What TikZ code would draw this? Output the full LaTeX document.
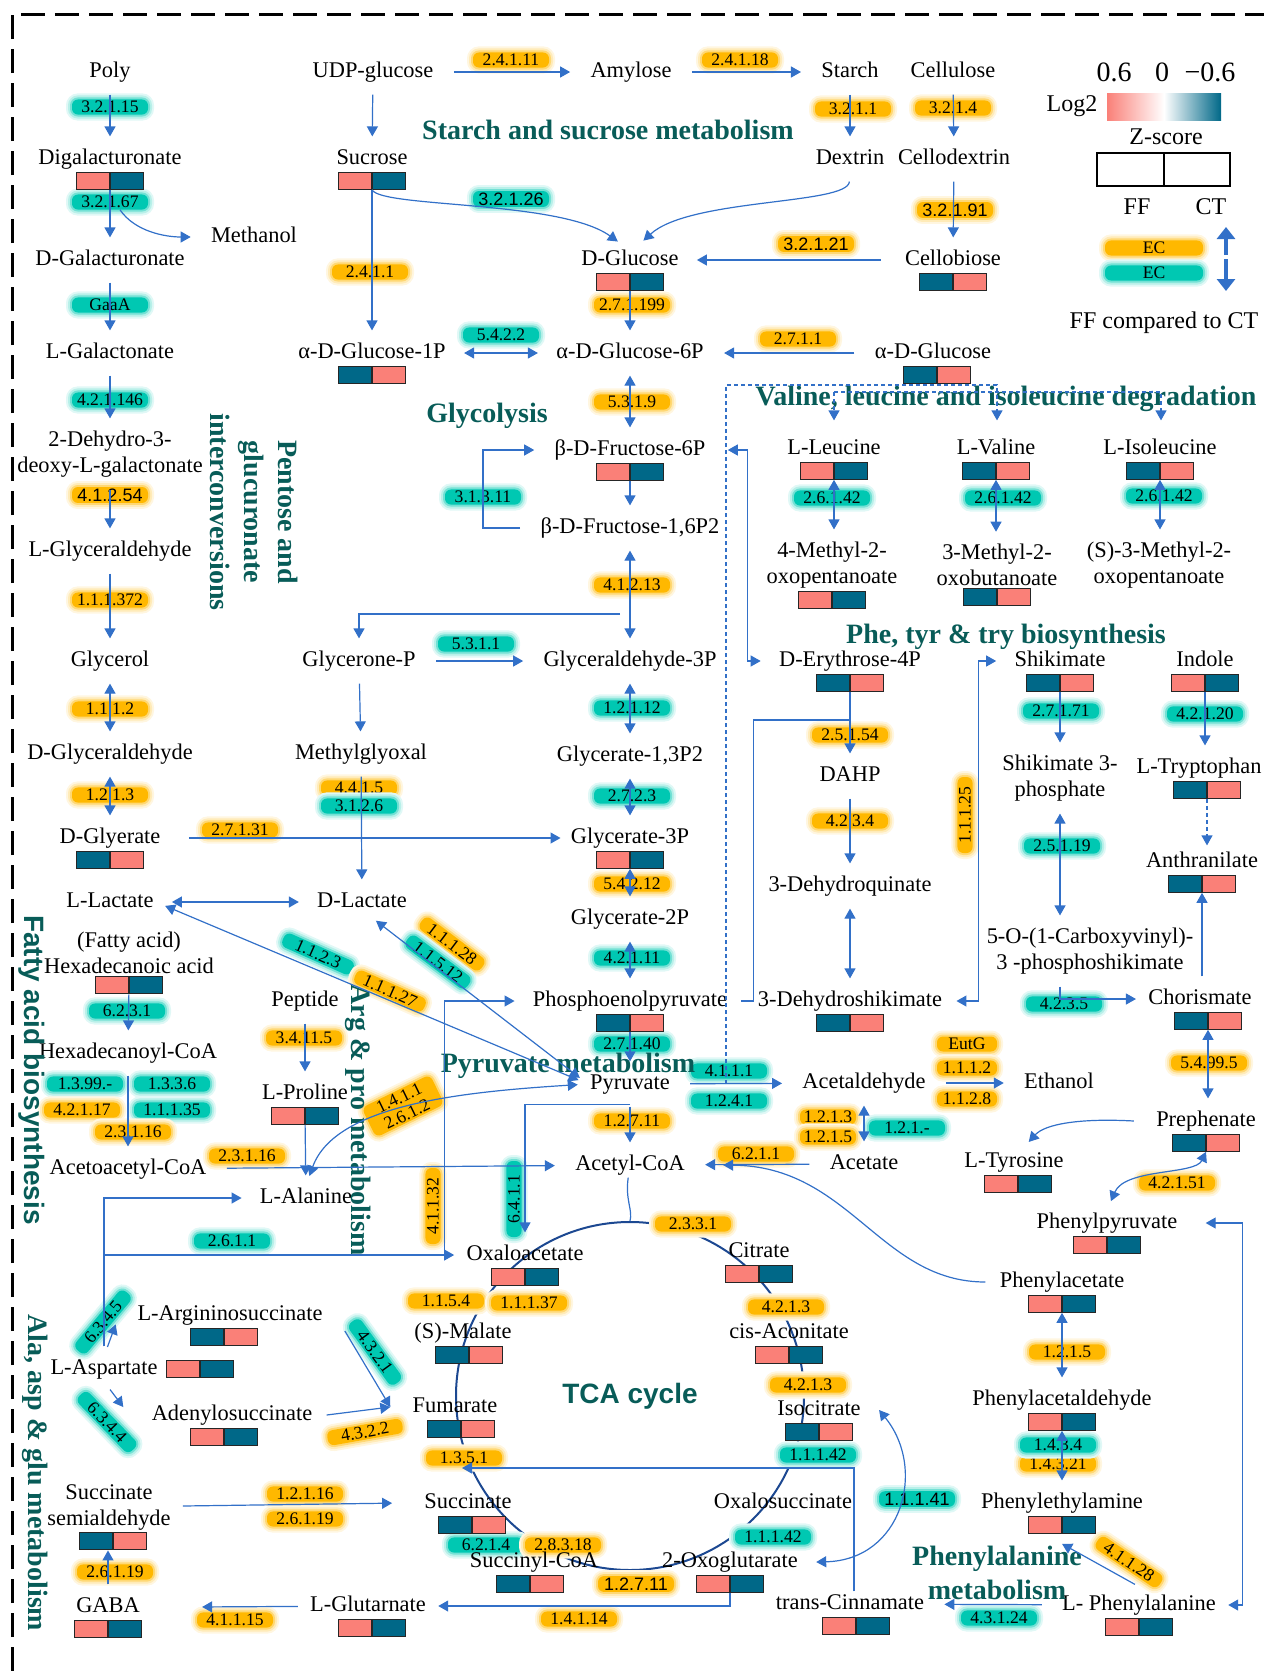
\documentclass[tikz,border=0pt]{standalone}
\usepackage{fontspec}
\setmainfont{Liberation Serif}
\setsansfont{Liberation Sans}
\usepackage{tikz}
\usetikzlibrary{positioning}
\usetikzlibrary{arrows.meta}
\tikzset{>={Triangle[width=5.5pt,length=5pt]}}
\definecolor{ffpink}{RGB}{250,128,120}
\definecolor{ctteal}{RGB}{0,104,136}
\definecolor{ecorange}{RGB}{255,184,0}
\definecolor{ecteal}{RGB}{0,200,178}
\definecolor{arrblue}{RGB}{50,112,200}
\definecolor{tcablue}{RGB}{28,72,145}
\definecolor{pathteal}{RGB}{8,92,88}

\begin{document}
\begin{tikzpicture}[x=0.5pt, y=-0.5pt,
    met/.style={font=\fontsize{11.2}{13}\selectfont, inner sep=1pt, text height=7.7pt, text depth=2.5pt},
    met2/.style={font=\fontsize{11.2}{13}\selectfont, inner sep=1pt, align=center},
    ffct/.style={draw=black!85, line width=0.6pt, minimum width=33.5pt, minimum height=8.5pt, inner sep=0pt},
    pinkteal/.style={ffct, path picture={\fill[ffpink] (path picture bounding box.south west) rectangle (path picture bounding box.north); \fill[ctteal] (path picture bounding box.north) rectangle (path picture bounding box.south east); \draw[black!85, line width=0.6pt] (path picture bounding box.north) -- (path picture bounding box.south);}},
    tealpink/.style={ffct, path picture={\fill[ctteal] (path picture bounding box.south west) rectangle (path picture bounding box.north); \fill[ffpink] (path picture bounding box.north) rectangle (path picture bounding box.south east); \draw[black!85, line width=0.6pt] (path picture bounding box.north) -- (path picture bounding box.south);}},
    ec/.style={rounded corners=3pt, minimum width=38pt, minimum height=7.5pt, inner sep=0.8pt, font=\fontsize{8.8}{9}\selectfont},
    ecor/.style={ec, fill=ecorange, preaction={draw=ecorange!12, line width=6pt}, preaction={draw=ecorange!28, line width=4pt}, preaction={draw=ecorange!55, line width=2pt}},
    ecte/.style={ec, fill=ecteal, preaction={draw=ecteal!12, line width=6pt}, preaction={draw=ecteal!28, line width=4pt}, preaction={draw=ecteal!55, line width=2pt}},
    ecsans/.style={font=\fontsize{9}{9}\selectfont\sffamily},
    pathway/.style={font=\fontsize{14}{17}\selectfont\bfseries, text=pathteal, inner sep=0pt, align=center},
    legtext/.style={font=\fontsize{12}{12}\selectfont, inner sep=1pt},
    legnum/.style={font=\fontsize{14}{14}\selectfont, inner sep=1pt},
    arr/.style={->, draw=arrblue, line width=0.6pt, shorten <=5pt, shorten >=5pt},
    darr/.style={arr, <->},
    harr/.style={arr, shorten <=9pt, shorten >=9pt},
    noshort/.style={shorten <=0pt, shorten >=0pt},
    conn/.style={draw=arrblue, line width=0.6pt},
    dsh/.style={->, draw=arrblue, line width=0.6pt, dash pattern=on 2pt off 1.5pt}]

    \useasboundingbox (0,0) rectangle (1264,1671);
    \draw[line width=1.5pt, dash pattern=on 12pt off 5pt] (12,1671) -- (12,14) -- (1264,14);

    %Legend
    \node[legnum](n06) at (1114,72){0.6};
    \node[legnum](n0) at (1162,72){0};
    \node[legnum](nm06) at (1210,72){−0.6};
    \node[legtext](log2) at (1072,106){Log2};
    \node[left color=ffpink, right color=ctteal, middle color=white, minimum width=57pt, minimum height=13.5pt, inner sep=0pt](gradbar) at (1164,106.5){};
    \node[legtext](zsc) at (1166,137){Z-score};
    \node[draw=black, line width=1pt, minimum width=66.5pt, minimum height=16.5pt, inner sep=0pt, path picture={\draw[line width=1pt] (path picture bounding box.north) -- (path picture bounding box.south);}](zbox) at (1163.5,169.5){};
    \node[legtext](ff) at (1137,207){FF};
    \node[legtext](ct) at (1211,207){CT};
    \node[ecor, minimum width=49pt](legor) at (1154,248){EC};
    \node[ecte, minimum width=49pt](legte) at (1154,273){EC};
    \node[legtext](cmp) at (1164,323){FF compared to CT};
    \coordinate (legup) at (1226,227);
    \coordinate (legup0) at (1226,255);
    \coordinate (legdn) at (1226,291);
    \coordinate (legdn0) at (1226,259);
    \draw[-{Triangle[width=9pt,length=6pt]}, draw=arrblue, line width=2.2pt] (legup0) -- (legup);
    \draw[-{Triangle[width=9pt,length=6pt]}, draw=arrblue, line width=2.2pt] (legdn0) -- (legdn);

    %TCA cycle
    \node[circle, draw=tcablue, line width=1pt, minimum size=174pt, inner sep=0pt, text=pathteal, font=\fontsize{14}{14}\selectfont\sffamily\bfseries](tca) at (630,1396){TCA cycle};

    %Enzymes
    \node[ecte](e32115) at (110,107){3.2.1.15};
    \node[ecte](e32167) at (110,202){3.2.1.67};
    \node[ecte](egaaa) at (110,305){GaaA};
    \node[ecte](e421146) at (110,400){4.2.1.146};
    \node[ecor, ecsans](e41254) at (110,495){4.1.2.54};
    \node[ecor](e111372) at (110,600){1.1.1.372};
    \node[ecor](e1112a) at (110,709){1.1.1.2};
    \node[ecor](e1213a) at (110,795){1.2.1.3};
    \node[ecor](e27131) at (240,830){2.7.1.31};
    \node[ecor](e24111) at (511,60){2.4.1.11};
    \node[ecor](e24118) at (740,60){2.4.1.18};
    \node[ecor](e3211) at (853,109){3.2.1.1};
    \node[ecor](e3214) at (953,108){3.2.1.4};
    \node[ecte, ecsans](e32126) at (511,199){3.2.1.26};
    \node[ecor, ecsans](e32191) at (955,210){3.2.1.91};
    \node[ecor, ecsans](e32121) at (816,244){3.2.1.21};
    \node[ecor](e2411) at (370,272){2.4.1.1};
    \node[ecor](e271199) at (632,305){2.7.1.199};
    \node[ecte](e5422) at (501,335){5.4.2.2};
    \node[ecor](e2711) at (798,339){2.7.1.1};
    \node[ecor](e5319) at (632,402){5.3.1.9};
    \node[ecte](e31311) at (483,497){3.1.3.11};
    \node[ecor](e41213) at (632,585){4.1.2.13};
    \node[ecte](e5311) at (476,644){5.3.1.1};
    \node[ecte](e12112) at (632,708){1.2.1.12};
    \node[ecte](e2723) at (632,796){2.7.2.3};
    \node[ecor](e4415) at (359,788){4.4.1.5};
    \node[ecte](e3126) at (359,806){3.1.2.6};
    \node[ecor](e54212) at (632,884){5.4.2.12};
    \node[ecte](e42111) at (632,958){4.2.1.11};
    \node[ecte](e27140) at (632,1044){2.7.1.40};
    \node[ecte](e4111) at (729,1071){4.1.1.1};
    \node[ecte](e1241) at (729,1101){1.2.4.1};
    \node[ecor](e12711a) at (632,1121){1.2.7.11};
    \node[ecte, rotate=90](e6411) at (514,1199){6.4.1.1};
    \node[ecor, rotate=90](e41132) at (433,1206){4.1.1.32};
    \node[ecor](e2331) at (693,1224){2.3.3.1};
    \node[ecor](e6211) at (756,1154){6.2.1.1};
    \node[ecor, minimum width=28pt](e1213b) at (828,1117){1.2.1.3};
    \node[ecor, minimum width=28pt](e1215a) at (828,1137){1.2.1.5};
    \node[ecte](e121x) at (907,1128){1.2.1.-};
    \node[ecor, minimum width=30pt](eeutg) at (967,1044){EutG};
    \node[ecor, minimum width=30pt](e1112b) at (967,1068){1.1.1.2};
    \node[ecor, minimum width=30pt](e1128) at (967,1099){1.1.2.8};
    \node[ecte](e26142a) at (832,498){2.6.1.42};
    \node[ecte](e26142b) at (1003,498){2.6.1.42};
    \node[ecte](e26142c) at (1164,496){2.6.1.42};
    \node[ecor](e25154) at (850,735){2.5.1.54};
    \node[ecor](e4234) at (850,821){4.2.3.4};
    \node[ecor, rotate=90](e11125) at (965,815){1.1.1.25};
    \node[ecte](e27171) at (1061,711){2.7.1.71};
    \node[ecte](e42120) at (1205,714){4.2.1.20};
    \node[ecte](e25119) at (1062,846){2.5.1.19};
    \node[ecte](e4235) at (1064,1004){4.2.3.5};
    \node[ecor](e54995) at (1209,1063){5.4.99.5};
    \node[ecor](e42151) at (1177,1183){4.2.1.51};
    \node[ecor](e1215b) at (1067,1352){1.2.1.5};
    \node[ecor](e14321) at (1058,1464){1.4.3.21};
    \node[ecte](e1434) at (1058,1445){1.4.3.4};
    \node[ecor, rotate=-34](e41128) at (1129,1562){4.1.1.28};
    \node[ecte](e43124) at (999,1618){4.3.1.24};
    \node[ecte, ecsans](e11141) at (917,1499){1.1.1.41};
    \node[ecor](e1154) at (446,1301){1.1.5.4};
    \node[ecor](e11137) at (529,1303){1.1.1.37};
    \node[ecor](e4213a) at (786,1307){4.2.1.3};
    \node[ecor](e4213b) at (808,1385){4.2.1.3};
    \node[ecor](e1351) at (464,1458){1.3.5.1};
    \node[ecte](e11142a) at (818,1455){1.1.1.42};
    \node[ecte](e11142b) at (773,1537){1.1.1.42};
    \node[ecte](e6214) at (486,1545){6.2.1.4};
    \node[ecor](e28318) at (563,1545){2.8.3.18};
    \node[ecor, ecsans](e12711b) at (636,1584){1.2.7.11};
    \node[ecor](e14114) at (579,1619){1.4.1.14};
    \node[ecte, rotate=-24](e1123) at (318,954){1.1.2.3};
    \node[ecor, rotate=-24](e11127) at (390,991){1.1.1.27};
    \node[ecor, rotate=-37](e11128) at (452,944){1.1.1.28};
    \node[ecte, rotate=-37](e11512) at (438,962){1.1.5.12};
    \node[ecor, rotate=26, align=center](e1411) at (403,1106){1.4.1.1\\2.6.1.2};
    \node[ecte](e6231) at (127,1011){6.2.3.1};
    \node[ecte](e1399) at (85,1084){1.3.99.-};
    \node[ecte](e1336) at (172,1084){1.3.3.6};
    \node[ecor](e42117) at (82,1110){4.2.1.17};
    \node[ecte](e11135) at (172,1110){1.1.1.35};
    \node[ecor](e23116a) at (133,1132){2.3.1.16};
    \node[ecor](e23116b) at (247,1156){2.3.1.16};
    \node[ecor](e34115) at (304,1038){3.4.11.5};
    \node[ecte](e2611) at (232,1241){2.6.1.1};
    \node[ecte, rotate=50](e6345) at (103,1322){6.3.4.5};
    \node[ecte, rotate=-46](e6344) at (107,1422){6.3.4.4};
    \node[ecte, rotate=-54](e4321) at (375,1352){4.3.2.1};
    \node[ecor, rotate=10](e4322) at (365,1432){4.3.2.2};
    \node[ecor](e12116) at (305,1494){1.2.1.16};
    \node[ecor](e26119a) at (305,1519){2.6.1.19};
    \node[ecor](e26119b) at (115,1572){2.6.1.19};
    \node[ecor](e41115) at (235,1620){4.1.1.15};

    %Nodes
    \node[met](poly) at (110,72){Poly};
    \node[met](dgal) at (110,159){Digalacturonate};
    \node[pinkteal](dgal-b)[below=0pt of dgal]{};
    \node[met](methanol) at (254,237){Methanol};
    \node[met](dgala) at (110,260){D-Galacturonate};
    \node[met](lgalo) at (110,353){L-Galactonate};
    \node[met2](dehydro) at (110,454){2-Dehydro-3-\\deoxy-L-galactonate};
    \node[met](lglyald) at (110,551){L-Glyceraldehyde};
    \node[met](glycerol) at (110,661){Glycerol};
    \node[met](dglyald) at (110,754){D-Glyceraldehyde};
    \node[met](dglyc) at (110,838){D-Glyerate};
    \node[tealpink](dglyc-b)[below=0pt of dglyc]{};
    \node[met](llac) at (110,902){L-Lactate};
    \node[met](dlac) at (362,902){D-Lactate};
    \node[met2](fatty) at (129,953){(Fatty acid)\\Hexadecanoic acid};
    \node[pinkteal](fatty-b)[below=0pt of fatty]{};
    \node[met](hexcoa) at (128,1053){Hexadecanoyl-CoA};
    \node[met](acac) at (128,1169){Acetoacetyl-CoA};
    \node[met](peptide) at (305,1001){Peptide};
    \node[met](lpro) at (305,1094){L-Proline};
    \node[pinkteal](lpro-b)[below=0pt of lpro]{};
    \node[met](lala) at (306,1198){L-Alanine};
    \node[met](larg) at (230,1315){L-Argininosuccinate};
    \node[tealpink](larg-b)[below=0pt of larg, xshift=-3pt]{};
    \node[met](lasp) at (104,1369){L-Aspartate};
    \node[pinkteal](lasp-b)[right=3pt of lasp]{};
    \node[met](adeno) at (232,1415){Adenylosuccinate};
    \node[pinkteal](adeno-b)[below=0pt of adeno, xshift=-4pt]{};
    \node[met2](ssa) at (109,1507){Succinate\\semialdehyde};
    \node[tealpink](ssa-b)[below=0pt of ssa, xshift=2pt]{};
    \node[met](gaba) at (108,1607){GABA};
    \node[pinkteal](gaba-b)[below=0pt of gaba]{};
    \node[met](lglu) at (368,1606){L-Glutarnate};
    \node[pinkteal](lglu-b)[below=0pt of lglu, xshift=2pt]{};

    \node[met](udpg) at (373,72){UDP-glucose};
    \node[met](amylose) at (631,72){Amylose};
    \node[met](starch) at (850,72){Starch};
    \node[met](cellulose) at (953,72){Cellulose};
    \node[met](sucrose) at (372,159){Sucrose};
    \node[pinkteal](sucrose-b)[below=0pt of sucrose]{};
    \node[met](dextrin) at (850,159){Dextrin};
    \node[met](cellodex) at (954,159){Cellodextrin};
    \node[met](dglc) at (630,260){D-Glucose};
    \node[pinkteal](dglc-b)[below=0pt of dglc]{};
    \node[met](cellobiose) at (953,260){Cellobiose};
    \node[tealpink](cellobiose-b)[below=0pt of cellobiose]{};
    \node[met](ag1p) at (372,353){α-D-Glucose-1P};
    \node[tealpink](ag1p-b)[below=0pt of ag1p]{};
    \node[met](ag6p) at (630,353){α-D-Glucose-6P};
    \node[met](aglc) at (933,353){α-D-Glucose};
    \node[tealpink](aglc-b)[below=0pt of aglc, xshift=2pt]{};
    \node[met](f6p) at (630,450){β-D-Fructose-6P};
    \node[pinkteal](f6p-b)[below=0pt of f6p]{};
    \node[met](f16p) at (630,528){β-D-Fructose-1,6P2};
    \node[met](gnp) at (359,661){Glycerone-P};
    \node[met](g3p) at (630,661){Glyceraldehyde-3P};
    \node[met](mgo) at (361,754){Methylglyoxal};
    \node[met](g13p) at (630,756){Glycerate-1,3P2};
    \node[met](g3pa) at (630,838){Glycerate-3P};
    \node[pinkteal](g3pa-b)[below=0pt of g3pa]{};
    \node[met](g2p) at (630,919){Glycerate-2P};
    \node[met](pep) at (630,1001){Phosphoenolpyruvate};
    \node[tealpink](pep-b)[below=0pt of pep]{};
    \node[met](pyr) at (630,1084){Pyruvate};
    \node[met](accoa) at (630,1165){Acetyl-CoA};
    \node[met](acald) at (864,1083){Acetaldehyde};
    \node[met](ethanol) at (1059,1083){Ethanol};
    \node[met](acetate) at (864,1164){Acetate};

    \node[met](leu) at (834,449){L-Leucine};
    \node[pinkteal](leu-b)[below=0pt of leu]{};
    \node[met](val) at (996,449){L-Valine};
    \node[tealpink](val-b)[below=0pt of val]{};
    \node[met](ile) at (1160,449){L-Isoleucine};
    \node[tealpink](ile-b)[below=0pt of ile]{};
    \node[met2](mop) at (832,565){4-Methyl-2-\\oxopentanoate};
    \node[pinkteal](mop-b)[below=0pt of mop]{};
    \node[met2](mob) at (997,565){3-Methyl-2-\\oxobutanoate};
    \node[tealpink](mob-b)[below=0pt of mob]{};
    \node[met2](smop) at (1159,565){(S)-3-Methyl-2-\\oxopentanoate};

    \node[met](e4p) at (850,661){D-Erythrose-4P};
    \node[tealpink](e4p-b)[below=0pt of e4p]{};
    \node[met](shik) at (1060,661){Shikimate};
    \node[tealpink](shik-b)[below=0pt of shik]{};
    \node[met](indole) at (1205,661){Indole};
    \node[pinkteal](indole-b)[below=0pt of indole]{};
    \node[met](dahp) at (850,776){DAHP};
    \node[met2](s3p) at (1060,778){Shikimate 3-\\phosphate};
    \node[met](ltrp) at (1199,768){L-Tryptophan};
    \node[tealpink](ltrp-b)[below=0pt of ltrp, xshift=4pt]{};
    \node[met](anth) at (1202,862){Anthranilate};
    \node[tealpink](anth-b)[below=0pt of anth]{};
    \node[met](dhq) at (850,886){3-Dehydroquinate};
    \node[met2](epsp) at (1090,951){5-O-(1-Carboxyvinyl)-\\3 -phosphoshikimate};
    \node[met](dhs) at (850,1001){3-Dehydroshikimate};
    \node[tealpink](dhs-b)[below=0pt of dhs]{};
    \node[met](chor) at (1200,999){Chorismate};
    \node[tealpink](chor-b)[below=0pt of chor, xshift=4pt]{};
    \node[met](preph) at (1206,1121){Prephenate};
    \node[tealpink](preph-b)[below=0pt of preph]{};
    \node[met](ltyr) at (1014,1162){L-Tyrosine};
    \node[pinkteal](ltyr-b)[below=0pt of ltyr, xshift=2pt]{};
    \node[met](phpyr) at (1107,1223){Phenylpyruvate};
    \node[pinkteal](phpyr-b)[below=0pt of phpyr]{};
    \node[met](phac) at (1062,1282){Phenylacetate};
    \node[pinkteal](phac-b)[below=0pt of phac]{};
    \node[met](phacald) at (1062,1400){Phenylacetaldehyde};
    \node[pinkteal](phacald-b)[below=0pt of phacald]{};
    \node[met](phea) at (1062,1503){Phenylethylamine};
    \node[pinkteal](phea-b)[below=0pt of phea]{};
    \node[met](lphe) at (1139,1605){L- Phenylalanine};
    \node[pinkteal](lphe-b)[below=0pt of lphe]{};
    \node[met](tcin) at (850,1604){trans-Cinnamate};
    \node[pinkteal](tcin-b)[below=0pt of tcin, xshift=3pt]{};

    \node[met](oaa) at (525,1255){Oxaloacetate};
    \node[pinkteal](oaa-b)[below=0pt of oaa]{};
    \node[met](cit) at (759,1252){Citrate};
    \node[pinkteal](cit-b)[below=0pt of cit]{};
    \node[met](mal) at (463,1333){(S)-Malate};
    \node[tealpink](mal-b)[below=0pt of mal, xshift=3pt]{};
    \node[met](cisa) at (789,1333){cis-Aconitate};
    \node[pinkteal](cisa-b)[below=0pt of cisa]{};
    \node[met](fum) at (455,1407){Fumarate};
    \node[tealpink](fum-b)[below=0pt of fum, xshift=3pt]{};
    \node[met](icit) at (819,1410){Isocitrate};
    \node[tealpink](icit-b)[below=0pt of icit]{};
    \node[met](succ) at (468,1503){Succinate};
    \node[tealpink](succ-b)[below=0pt of succ, xshift=2pt]{};
    \node[met](oxs) at (783,1503){Oxalosuccinate};
    \node[met](succoa) at (534,1562){Succinyl-CoA};
    \node[tealpink](succoa-b)[below=0pt of succoa, xshift=-2pt]{};
    \node[met](akg) at (730,1562){2-Oxoglutarate};
    \node[pinkteal](akg-b)[below=0pt of akg]{};

    %Pathway titles
    \node[pathway](hstarch) at (608,130){Starch and sucrose metabolism};
    \node[pathway](hglyco) at (487,416){Glycolysis};
    \node[pathway](hbcaa) at (1006,399){Valine, leucine and isoleucine degradation};
    \node[pathway, rotate=-90](hpent) at (254,512){Pentose and\\glucuronate\\interconversions};
    \node[pathway](hphe) at (1006,637){Phe, tyr \& try biosynthesis};
    \node[pathway, font=\fontsize{14}{17}\selectfont\sffamily\bfseries, rotate=-90](hfat) at (32,1070){Fatty acid biosynthesis};
    \node[pathway, rotate=-90](harg) at (358,1120){Arg \& pro metabolism};
    \node[pathway](hpyr) at (568,1066){Pyruvate metabolism};
    \node[pathway, rotate=-90](hala) at (35,1473){Ala, asp \& glu metabolism};
    \node[pathway](hphenyl) at (997,1573){Phenylalanine\\metabolism};

    %Lines
    \draw[arr] (poly) -- (dgal);
    \draw[arr, shorten <=0pt] (dgal-b) -- (dgala);
    \draw[arr, shorten <=0pt] ([xshift=5pt, yshift=-10pt]dgal-b.south) .. controls +(15,22) and +(-35,0) .. ([xshift=-4pt]methanol.west);
    \draw[arr] (dgala) -- (lgalo);
    \draw[arr] (lgalo) -- (dehydro);
    \draw[arr] (dehydro) -- (lglyald);
    \draw[arr] (lglyald) -- (glycerol);
    \draw[darr] (glycerol) -- (dglyald);
    \draw[darr] (dglyald) -- (dglyc);
    \draw[arr, noshort] ([xshift=13pt]dglyc.east) -- ([xshift=-4pt]g3pa.west);
    \draw[darr, shorten <=8pt, shorten >=8pt] (llac) -- (dlac);
    \draw[darr] (llac.east) -- (pyr.west);
    \draw[darr] ([xshift=3pt]dlac.south) -- (pyr.west);
    \draw[arr] (gnp) -- (mgo);
    \draw[arr] (mgo) -- (dlac);
    \draw[arr, shorten <=0pt] (fatty-b) -- (hexcoa);
    \draw[arr] (hexcoa) -- (acac);
    \draw[harr] (acac) -- (accoa);
    \draw[arr] (peptide) -- (lpro);
    \draw[arr, shorten <=0pt] (lpro-b) -- (lala);
    \draw[darr] (pyr.west) .. controls (460,1092) and (335,1105) .. (lala.north);
    \draw[arr] (lasp.north) |- ([xshift=-3pt]lala.west);
    \draw[arr] (lasp.north) |- (oaa.west);
    \draw[arr, noshort] ([xshift=-10pt]oaa.west) |- ([xshift=-8pt]pep.west);
    \draw[arr] (lasp.north) -- ([xshift=-8pt]larg.west);
    \draw[arr] (lasp.south) -- ([xshift=-10pt]adeno.west);
    \draw[arr, noshort] ([xshift=10pt, yshift=-8pt]larg.east) -- ([xshift=-10pt]fum.west);
    \draw[arr, noshort] ([xshift=6pt]adeno.east) -- ([xshift=-10pt]fum.west);
    \draw[arr] (ssa) -- ([xshift=-10pt]succ.west);
    \draw[arr, shorten >=0pt] (gaba) -- (gaba |- ssa-b.south);
    \draw[arr] (lglu) -- ([xshift=25pt]gaba.east);
    \draw[arr, shorten <=0pt] (akg-b) |- (lglu.east);

    \draw[arr] (udpg) -- (sucrose);
    \draw[harr] (udpg) -- (amylose);
    \draw[harr] (amylose) -- (starch);
    \draw[arr] (starch) -- (dextrin);
    \draw[arr] (cellulose) -- (cellodex);
    \draw[arr] (cellodex) -- (cellobiose);
    \draw[arr, shorten <=11pt, shorten >=8pt] (cellobiose) -- (dglc);
    \draw[arr, shorten <=0pt] (sucrose-b) -- (ag1p);
    \draw[arr, shorten <=0pt] (sucrose-b.south) .. controls (382,208) and (560,200) .. ([xshift=-2pt]dglc.north);
    \draw[arr] (dextrin.south) .. controls (848,205) and (690,198) .. ([xshift=3pt]dglc.north);
    \draw[arr, shorten <=0pt] (dglc-b) -- (ag6p);
    \draw[darr, shorten <=8pt, shorten >=8pt] (ag1p) -- (ag6p);
    \draw[harr] (aglc) -- (ag6p);
    \draw[darr] (ag6p) -- (f6p);
    \draw[arr, shorten <=0pt] (f6p-b) -- (f16p);
    \draw[arr, noshort] ([xshift=-9pt]f16p.west) -| (e31311.center) |- ([xshift=-9pt]f6p.west);
    \draw[darr] (f16p) -- (g3p);
    \coordinate (fork) at (630,614);
    \draw[arr] (fork) -| (gnp);
    \draw[harr] (gnp) -- (g3p);
    \draw[darr] (g3p) -- (g13p);
    \draw[darr] (g13p) -- (g3pa);
    \draw[darr, shorten <=0pt] (g3pa-b) -- (g2p);
    \draw[darr] (g2p) -- (pep);
    \draw[arr, shorten <=0pt] (pep-b) -- (pyr);
    \draw[arr] (pyr) -- (accoa);
    \draw[arr, shorten <=0pt] ([yshift=-4pt]pyr.south) -| (oaa.north);
    \draw[harr] (pyr) -- (acald);
    \draw[harr] (acald) -- (ethanol);
    \draw[darr] (acald) -- (acetate);
    \draw[harr] (acetate) -- (accoa);

    \coordinate (bcaa) at (726,1084);
    \coordinate (vtop) at (997,385);
    \coordinate (ltop) at (834,392);
    \coordinate (itop) at (1161,392);
    \draw[dsh, shorten >=8pt] (bcaa) |- (vtop) -- (val.north -| vtop);
    \draw[dsh, shorten >=8pt] (ltop) -- (itop) -- (ile.north -| itop);
    \draw[dsh, shorten >=8pt] (ltop) -- (leu.north -| ltop);
    \draw[darr, shorten <=0pt] (leu-b) -- (leu-b |- mop.north);
    \draw[darr, shorten <=0pt] (val-b) -- (val-b |- mob.north);
    \draw[darr, shorten <=0pt] (ile-b) -- (ile-b |- smop.north);

    \draw[darr, noshort] ([xshift=10pt]f6p.east) -- ++(20,0) |- ([xshift=-8pt]e4p.west);
    \coordinate (join) at (850,720);
    \draw[conn] ([xshift=6pt]pep.east) -- ++(12,0) |- (join);
    \draw[arr, shorten <=0pt] (e4p-b) -- (dahp);
    \draw[arr] (dahp) -- (dhq);
    \draw[darr] (dhq) -- (dhs);
    \draw[darr, noshort] ([xshift=6pt]dhs.east) -- ++(22,0) |- ([xshift=-8pt]shik.west);
    \draw[arr, shorten <=0pt] (shik-b) -- (s3p);
    \draw[darr] (s3p) -- (s3p |- epsp.north);
    \draw[arr] (epsp.south -| s3p) |- (chor.west);
    \draw[arr, shorten <=0pt] (indole-b) -- (indole-b |- ltrp.north);
    \draw[dsh, shorten >=2pt] (ltrp-b) -- (ltrp-b |- anth.north);
    \draw[arr, shorten >=0pt] (chor.north -| anth-b) -- (anth-b);
    \draw[darr, shorten <=0pt] (chor-b) -- (chor-b |- preph.north);
    \draw[arr, shorten <=0pt] ([xshift=-10pt]preph.west) .. controls (1080,1118) and (1045,1124) .. ([xshift=4pt]ltyr.north);
    \draw[darr, shorten <=0pt] (preph-b.south) .. controls (1195,1175) and (1125,1168) .. (phpyr.north);
    \draw[darr, noshort] ([xshift=13pt]phpyr.east) -- ++(37,0) |- ([xshift=5pt]lphe.east);
    \draw[darr, shorten <=0pt] (phac-b) -- (phacald);
    \draw[darr, shorten <=0pt] (phacald-b) -- (phea);
    \draw[arr, noshort] ([xshift=-2pt, yshift=4pt]lphe.north) -- ([yshift=-5pt]phea-b.south);
    \draw[harr] (lphe) -- (tcin);
    \coordinate (fumin) at (462,1468);
    \draw[arr, noshort] ([xshift=2pt]tcin.north) |- (fumin);
    \draw[arr, shorten <=0pt] ([xshift=-6pt]phac.west) .. controls (880,1282) and (850,1166) .. ([xshift=13pt]accoa.east);

    \draw[conn] (accoa) .. controls (625,1200) and (633,1210) .. (tca.north);
    \draw[darr, noshort] ([xshift=8pt]akg.east) .. controls +(86,-2) and +(48,59) .. ([xshift=8pt]icit.east);

\end{tikzpicture}
\end{document}
